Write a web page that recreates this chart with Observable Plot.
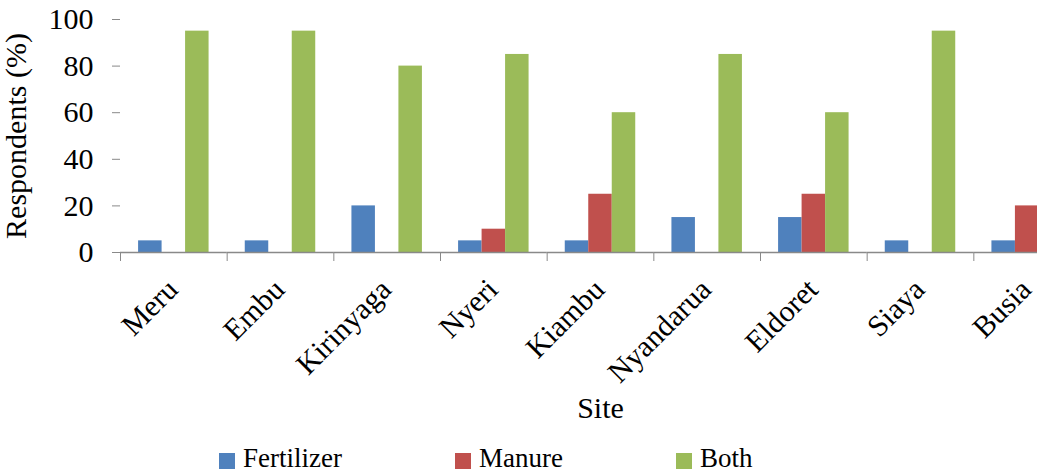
<!DOCTYPE html>
<html>
<head>
<meta charset="utf-8">
<script src="https://cdn.jsdelivr.net/npm/d3@7"></script>
<script src="https://cdn.jsdelivr.net/npm/@observablehq/plot@0.6"></script>
<style>
  html, body { margin: 0; padding: 0; background: white; overflow: hidden; }
  #wrap { width: 1037px; overflow: hidden; }
  #chart svg, #chart svg text { font-family: "Liberation Serif", "Times New Roman", serif !important; }
  #legend { height: 39px; overflow: hidden; padding-left: 219px; box-sizing: border-box; padding-top: 11px; }
  .lg-swatches { margin: 0 !important; min-height: 0 !important; font-family: "Liberation Serif", "Times New Roman", serif !important; font-size: 27px !important; color: black; line-height: 34px; }
  .lg-swatch { margin-right: 113px !important; }
  .lg-swatch > svg { margin-right: 8px !important; position: relative; top: 3px; }
</style>
</head>
<body>
<div id="wrap"><div id="chart"></div><div id="legend"></div></div>
<script>
const sites = ["Meru", "Embu", "Kirinyaga", "Nyeri", "Kiambu", "Nyandarua", "Eldoret", "Siaya", "Busia"];
const types = ["Fertilizer", "Manure", "Both"];
const fertilizer = [5, 5, 20, 5, 5, 15, 15, 5, 5];
const manure     = [0, 0, 0, 10, 25, 0, 25, 0, 20];
const both       = [95, 95, 80, 85, 60, 85, 60, 95, 75];
const yTicks = [0, 20, 40, 60, 80, 100];
const colors = ["#4f81bd", "#c0504d", "#9bbb59"];

const series = [fertilizer, manure, both];
const data = sites.flatMap((site, i) => types.map((type, j) => ({site, type, value: series[j][i]})));

const gray = "#898989";
const W = 1037, H = 430;
const mLeft = 120, plotRight = 1080;
const groupW = (plotRight - mLeft) / sites.length;
const baseSize = 27, shownSize = 30;

const chart = Plot.plot({
  width: W,
  height: H,
  marginLeft: mLeft,
  marginRight: W - plotRight,
  marginTop: 19,
  marginBottom: H - 252,
  style: {fontSize: baseSize + "px", color: "black", background: "white", overflow: "hidden"},
  fx: {domain: sites, padding: 0, round: false},
  x: {domain: types, paddingInner: 0, paddingOuter: 0.77, round: false, axis: null},
  y: {domain: [0, 100]},
  color: {domain: types, range: colors},
  marks: [
    Plot.axisY({ticks: yTicks, tickSize: 8, tickPadding: 19, stroke: gray, fill: "black", line: true,
      label: "Respondents (%)", labelAnchor: "center", labelOffset: 116, labelArrow: "none"}),
    Plot.barY(data, {fx: "site", x: "type", y: "value", fill: "type"}),
    Plot.ruleY([0], {stroke: gray, strokeWidth: 1.3}),
    Plot.axisFx({anchor: "bottom", tickSize: 9, dx: -groupW / 2, fill: "none", stroke: gray, label: null}),
    Plot.axisFx({anchor: "bottom", tickSize: 0, tickRotate: -45, dx: -1, tickPadding: 32, fill: "black", fontSize: shownSize,
      label: "Site", labelAnchor: "center", labelOffset: 165, labelArrow: "none"})
  ]
});
document.getElementById("chart").appendChild(chart);

// Horizontal / vertical texts: set at baseSize and scaled up to shownSize around their own anchor;
// the em-based line offsets are turned into a plain translate.
const k = shownSize / baseSize;
const toPx = (v) => v == null ? 0 : (String(v).endsWith("em") ? parseFloat(v) * baseSize : (parseFloat(v) || 0));
d3.select(chart)
  .selectAll('g[aria-label="y-axis tick label"] text, g[aria-label="y-axis label"] text, g[aria-label="fx-axis label"] text')
  .each(function () {
    const ox = toPx(this.getAttribute("x")), oy = toPx(this.getAttribute("y"));
    this.removeAttribute("x"); this.removeAttribute("y");
    const tr = this.getAttribute("transform") || "";
    this.setAttribute("transform", `${tr} translate(${ox * k},${oy * k}) scale(${k})`);
    this.setAttribute("font-size", baseSize);
  });

const legend = Plot.legend({
  color: {domain: types, range: colors},
  swatchSize: 16,
  className: "lg"
});
document.getElementById("legend").appendChild(legend);
</script>
</body>
</html>
